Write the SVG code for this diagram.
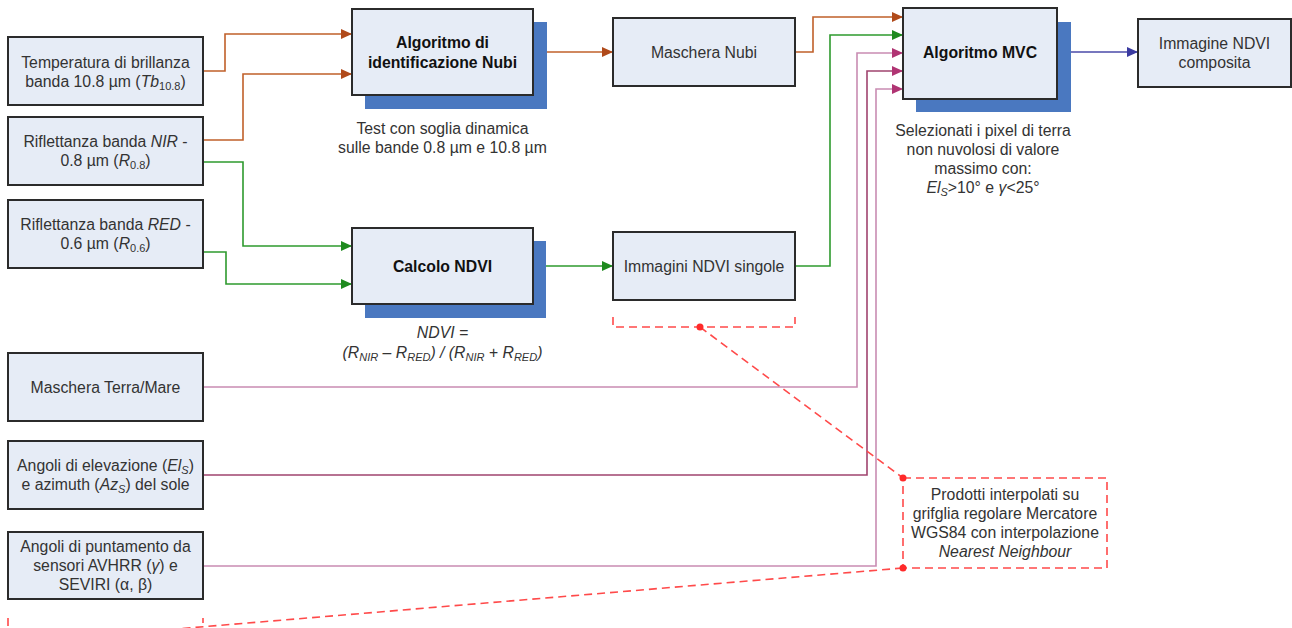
<svg xmlns="http://www.w3.org/2000/svg" width="1292" height="628" viewBox="0 0 1292 628">
<defs>
<style>
.box{fill:#e6ecf6;stroke:#2b2b2b;stroke-width:2}
.sh{fill:#4a78c0}
text{font-family:"Liberation Sans",Arial,sans-serif;font-size:15.8px;fill:#333;text-anchor:middle}
.b{font-weight:bold;fill:#111}
.i{font-style:italic}
.c{fill:none;stroke-width:1.6}
.or{stroke:#c0602a}
.gr{stroke:#2e9a2e}
.pk{stroke:#c98cb2}
.pk2{stroke:#a0446f}
.bl{stroke:#4a4aa8}
.dash{fill:none;stroke:#ff4a4a;stroke-width:1.6;stroke-dasharray:8 5}
</style>
<marker id="aor" markerUnits="userSpaceOnUse" markerWidth="12" markerHeight="10" refX="11" refY="5" orient="auto"><path d="M0,0 L11,5 L0,10 Z" fill="#b04a1a"/></marker>
<marker id="agr" markerUnits="userSpaceOnUse" markerWidth="12" markerHeight="10" refX="11" refY="5" orient="auto"><path d="M0,0 L11,5 L0,10 Z" fill="#1e8a1e"/></marker>
<marker id="apk" markerUnits="userSpaceOnUse" markerWidth="12" markerHeight="10" refX="11" refY="5" orient="auto"><path d="M0,0 L11,5 L0,10 Z" fill="#b03473"/></marker>
<marker id="abl" markerUnits="userSpaceOnUse" markerWidth="12" markerHeight="10" refX="11" refY="5" orient="auto"><path d="M0,0 L11,5 L0,10 Z" fill="#3a3aa0"/></marker>
</defs>
<rect width="1292" height="628" fill="#fff"/>

<g id="connectors">
<path class="c or" d="M203,71 H225 V34 H352" marker-end="url(#aor)"/>
<path class="c or" d="M203,140 H243 V74 H352" marker-end="url(#aor)"/>
<path class="c or" d="M533,52 H613" marker-end="url(#aor)"/>
<path class="c or" d="M795,52 H813 V17 H903" marker-end="url(#aor)"/>
<path class="c gr" d="M203,162 H243 V246 H352" marker-end="url(#agr)"/>
<path class="c gr" d="M203,252 H226 V284 H352" marker-end="url(#agr)"/>
<path class="c gr" d="M533,266 H613" marker-end="url(#agr)"/>
<path class="c gr" d="M795,266 H830 V35 H903" marker-end="url(#agr)"/>
<path class="c pk" d="M203,387 H857 V53 H903" marker-end="url(#apk)"/>
<path class="c pk2" d="M203,475 H867 V71 H903" marker-end="url(#apk)"/>
<path class="c pk" d="M203,566 H876 V89 H903" marker-end="url(#apk)"/>
<path class="c bl" d="M1057,52 H1138" marker-end="url(#abl)"/>
</g>

<g id="n-temp"><rect class="box" x="8" y="37" width="195" height="68"/>
<text x="105.5" y="67.5">Temperatura di brillanza</text>
<text x="105.5" y="86.5">banda 10.8 µm (<tspan class="i">Tb</tspan><tspan font-size="11" dy="3">10.8</tspan><tspan dy="-3">)</tspan></text></g>

<g id="n-nir"><rect class="box" x="8" y="117" width="195" height="68"/>
<text x="105.5" y="147">Riflettanza banda <tspan class="i">NIR</tspan> -</text>
<text x="105.5" y="166">0.8 µm (<tspan class="i">R</tspan><tspan font-size="11" dy="3">0.8</tspan><tspan dy="-3">)</tspan></text></g>

<g id="n-red"><rect class="box" x="8" y="200" width="195" height="68"/>
<text x="105.5" y="230">Riflettanza banda <tspan class="i">RED</tspan> -</text>
<text x="105.5" y="249">0.6 µm (<tspan class="i">R</tspan><tspan font-size="11" dy="3">0.6</tspan><tspan dy="-3">)</tspan></text></g>

<g id="n-terra"><rect class="box" x="8" y="353" width="195" height="68"/>
<text x="105.5" y="392.5">Maschera Terra/Mare</text></g>

<g id="n-elev"><rect class="box" x="8" y="441" width="195" height="68"/>
<text x="105.5" y="471">Angoli di elevazione (<tspan class="i">El</tspan><tspan class="i" font-size="11" dy="3">S</tspan><tspan dy="-3">)</tspan></text>
<text x="105.5" y="490">e azimuth (<tspan class="i">Az</tspan><tspan class="i" font-size="11" dy="3">S</tspan><tspan dy="-3">) del sole</tspan></text></g>

<g id="n-punt"><rect class="box" x="8" y="532" width="195" height="67"/>
<text x="105.5" y="551.5">Angoli di puntamento da</text>
<text x="105.5" y="570.5">sensori AVHRR (<tspan class="i">γ</tspan>) e</text>
<text x="105.5" y="589.5">SEVIRI (α, β)</text></g>

<g id="n-nubi-alg"><rect class="sh" x="365" y="22" width="182" height="87"/>
<rect class="box" x="352" y="9" width="181" height="86"/>
<text class="b" x="442.5" y="47.5">Algoritmo di</text>
<text class="b" x="442.5" y="67.5">identificazione Nubi</text>
<text x="442.5" y="134">Test con soglia dinamica</text>
<text x="442.5" y="153">sulle bande 0.8 µm e 10.8 µm</text></g>

<g id="n-ndvi-calc"><rect class="sh" x="365" y="241" width="181" height="77"/>
<rect class="box" x="352" y="228" width="181" height="76"/>
<text class="b" x="442.5" y="271.5">Calcolo NDVI</text>
<text class="i" x="442.5" y="338">NDVI =</text>
<text class="i" x="442.5" y="357.5">(R<tspan font-size="11" dy="3">NIR</tspan><tspan dy="-3"> – R</tspan><tspan font-size="11" dy="3">RED</tspan><tspan dy="-3">) / (R</tspan><tspan font-size="11" dy="3">NIR</tspan><tspan dy="-3"> + R</tspan><tspan font-size="11" dy="3">RED</tspan><tspan dy="-3">)</tspan></text></g>

<g id="n-nubi-mask"><rect class="box" x="613" y="18" width="182" height="68"/>
<text x="704" y="57.5">Maschera Nubi</text></g>

<g id="n-ndvi-single"><rect class="box" x="613" y="232" width="182" height="68"/>
<text x="704" y="271.5">Immagini NDVI singole</text></g>

<g id="n-mvc"><rect class="sh" x="916" y="22" width="155" height="90"/>
<rect class="box" x="903" y="8" width="154" height="91"/>
<text class="b" x="980" y="58">Algoritmo MVC</text>
<text x="983" y="135.5">Selezionati i pixel di terra</text>
<text x="983" y="155">non nuvolosi di valore</text>
<text x="983" y="174">massimo con:</text>
<text x="983" y="193"><tspan class="i">El</tspan><tspan class="i" font-size="11" dy="3">S</tspan><tspan dy="-3">&gt;10° e </tspan><tspan class="i">γ</tspan>&lt;25°</text></g>

<g id="n-composite"><rect class="box" x="1138" y="19" width="153" height="68"/>
<text x="1214.5" y="48.5">Immagine NDVI</text>
<text x="1214.5" y="67.5">composita</text></g>

<g id="n-callout">
<path class="dash" d="M613,317 V327 H795 V317"/>
<path class="dash" d="M700,327 L903,478"/>
<rect class="dash" x="903" y="478" width="204" height="90"/>
<path class="dash" d="M903,568 L105,635"/>
<path class="dash" d="M8,618 V640 H203 V618"/>
<circle cx="700" cy="327" r="3.5" fill="#ff2a2a"/>
<circle cx="903" cy="478" r="3.5" fill="#ff2a2a"/>
<circle cx="903" cy="568" r="3.5" fill="#ff2a2a"/>
<text x="1005" y="499.5">Prodotti interpolati su</text>
<text x="1005" y="518.5">grifglia regolare Mercatore</text>
<text x="1005" y="537.5">WGS84 con interpolazione</text>
<text class="i" x="1005" y="556.5">Nearest Neighbour</text>
</g>
</svg>
